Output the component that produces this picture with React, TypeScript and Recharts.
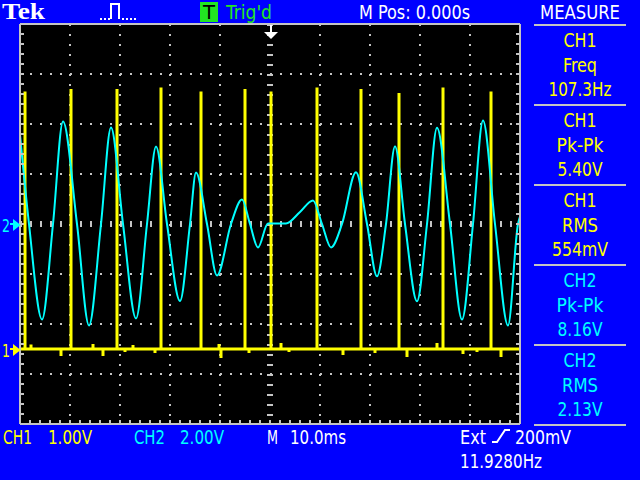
import { ComposedChart, Line, XAxis, YAxis, ReferenceLine } from "recharts";

// CH2 (cyan) trace: time in ms, volts (2 V/div)
const ch2Times = [
  0, 1.8, 4.4, 6.6, 8.6, 11.4, 13.8, 16.2, 18.2, 20.6, 23.2, 25.4, 27.2, 29.4, 32.0, 34.0,
  35.2, 37.4, 39.4, 42.2, 44.4, 46.0, 47.6, 49.6, 53.2, 56.0, 58.6, 60.4, 62.2, 64.4, 67.2,
  69.4, 71.4, 73.2, 75.0, 77.0, 79.4, 81.4, 83.4, 86.0, 88.4, 90.6, 92.6, 95.0, 97.6, 99.6, 100,
];
const ch2Volts = [
  3.58, 0, -3.82, 0, 4.1, 0, -4.06, 0, 3.86, 0, -3.78, 0, 3.1, 0, -3.08, 0,
  2.06, 0, -2.06, 0, 0.98, 0, -0.94, 0.02, 0.02, 0.48, 0.94, 0, -0.94, 0, 2.07,
  0, -2.09, 0, 3.11, 0, -3.09, 0, 3.85, 0, -3.82, 0, 4.14, 0, -4.06, 0, 0.3,
];

// CH1 (yellow) pulses: time in ms, height in volts (1 V/div)
const pulseTimes = [1.0, 10.2, 19.4, 28.2, 36.2, 45.0, 50.2, 59.4, 68.2, 75.8, 84.6, 94.2];
const pulseVolts = [5.15, 5.2, 5.2, 5.23, 5.15, 5.2, 5.15, 5.23, 5.2, 5.12, 5.23, 5.15];

// small glitches on the CH1 baseline
const glitchTimes = [2.2, 8.2, 14.6, 16.6, 21.0, 22.6, 27.0, 39.8, 40.2, 45.8, 52.2, 53.8, 64.6, 71.0, 77.4, 83.4, 88.6, 91.4, 96.2];
const glitchVolts = [0.09, -0.14, 0.1, -0.14, -0.06, 0.08, -0.08, 0.1, -0.18, -0.08, 0.12, -0.06, -0.12, -0.08, -0.16, 0.12, -0.1, -0.06, -0.16];

// graticule divisions
const timeDivs = [0, 10, 20, 30, 40, 50, 60, 70, 80, 90, 100];
const ch2Divs = [-8, -6, -4, -2, 0, 2, 4, 6, 8];
const ch1Divs = [-1.5, -0.5, 0.5, 1.5, 2.5, 3.5, 4.5, 5.5, 6.5];

// measure panel
const measSources = ["CH1", "CH1", "CH1", "CH2", "CH2"];
const measNames = ["Freq", "Pk-Pk", "RMS", "Pk-Pk", "RMS"];
const measValues = ["107.3Hz", "5.40V", "554mV", "8.16V", "2.13V"];
const measNameW = [34, 47, 36, 47, 36];
const measValueW = [63, 45, 56, 45, 45];

const BLUE = "#0000ff";
const GREY = "#c4c4c4";
const YELLOW = "#ffff00";
const CYAN = "#00ffff";
const GREEN = "#22e622";
const FONT = '"Liberation Sans Narrow", "DejaVu Sans Condensed", "Liberation Sans", sans-serif';

// 5 minor ticks per division
function minor(divs: number[]) {
  const out: number[] = [];
  for (let i = 0; i < divs.length - 1; i++) {
    for (let k = 0; k < 5; k++) out.push(divs[i] + ((divs[i + 1] - divs[i]) * k) / 5);
  }
  out.push(divs[divs.length - 1]);
  return out;
}

const ch2Data = ch2Times.map((t, i) => ({ t, v: ch2Volts[i] }));

const ch1Events = [
  ...pulseTimes.map((t, i) => ({ t, v: pulseVolts[i] })),
  ...glitchTimes.map((t, i) => ({ t, v: glitchVolts[i] })),
].sort((a, b) => a.t - b.t);
const ch1Data: { t: number; v: number }[] = [{ t: 0, v: 0 }];
ch1Events.forEach((e) => {
  ch1Data.push({ t: e.t, v: 0 }, { t: e.t, v: e.v }, { t: e.t, v: 0 });
});
ch1Data.push({ t: 100, v: 0 });

const noLabel = () => <g />;
const border = { stroke: GREY, strokeWidth: 2 };

function Txt(props: { x: number; y: number; w: number; c: string; s?: number; mid?: boolean; bold?: boolean; font?: string; children: string }) {
  return (
    <text
      x={props.x}
      y={props.y}
      fill={props.c}
      fontSize={props.s ?? 20}
      fontWeight={props.bold ? 700 : 400}
      fontFamily={props.font ?? FONT}
      textLength={props.w}
      lengthAdjust="spacingAndGlyphs"
      textAnchor={props.mid ? "middle" : "start"}
    >
      {props.children}
    </text>
  );
}

export default function App() {
  return (
    <div style={{ position: "relative", width: 640, height: 480, background: BLUE, overflow: "hidden", fontFamily: FONT }}>
      <style>{"body{margin:0}"}</style>
      <div style={{ position: "absolute", left: 20, top: 24, width: 500, height: 400, background: "#000" }} />
      <ComposedChart
        width={640}
        height={480}
        margin={{ top: 24, right: 120, bottom: 56, left: 20 }}
        style={{ position: "absolute", left: 0, top: 0 }}
      >
        <XAxis xAxisId="b" dataKey="t" type="number" domain={[0, 100]} allowDataOverflow ticks={minor(timeDivs)} interval={0}
          tick={noLabel} tickSize={4} mirror axisLine={border} tickLine={border} />
        <XAxis xAxisId="t" orientation="top" type="number" domain={[0, 100]} allowDataOverflow ticks={minor(timeDivs)} interval={0}
          tick={noLabel} tickSize={4} mirror axisLine={border} tickLine={border} />
        <YAxis yAxisId="ch2" type="number" domain={[-8, 8]} allowDataOverflow ticks={minor(ch2Divs)} interval={0}
          tick={noLabel} tickSize={4} mirror axisLine={border} tickLine={border} />
        <YAxis yAxisId="ch1" orientation="right" type="number" domain={[-1.5, 6.5]} allowDataOverflow ticks={minor(ch1Divs)} interval={0}
          tick={noLabel} tickSize={4} mirror axisLine={border} tickLine={border} />

        {ch2Divs.slice(1, -1).filter((v) => v !== 0).map((v) => (
          <ReferenceLine key={"h" + v} xAxisId="b" yAxisId="ch2" y={v} stroke={GREY} strokeWidth={2} strokeDasharray="2 8" />
        ))}
        {timeDivs.slice(1, -1).filter((t) => t !== 50).map((t) => (
          <ReferenceLine key={"v" + t} xAxisId="b" yAxisId="ch2" x={t} stroke={GREY} strokeWidth={2} strokeDasharray="2 8" strokeDashoffset={2} />
        ))}
        <ReferenceLine xAxisId="b" yAxisId="ch2" y={0} stroke={GREY} strokeWidth={6} strokeDasharray="2 8" />
        <ReferenceLine xAxisId="b" yAxisId="ch2" x={50} stroke={GREY} strokeWidth={6} strokeDasharray="2 8" strokeDashoffset={2} />

        <Line xAxisId="b" yAxisId="ch1" data={ch1Data} dataKey="v" type="linear" stroke={YELLOW} strokeWidth={3}
          dot={false} activeDot={false} isAnimationActive={false} />
        <Line xAxisId="b" yAxisId="ch2" data={ch2Data} dataKey="v" type="monotone" stroke={CYAN} strokeWidth={2}
          dot={false} activeDot={false} isAnimationActive={false} />
      </ComposedChart>

      <svg width={640} height={480} style={{ position: "absolute", left: 0, top: 0, pointerEvents: "none" }}>
        {/* header */}
        <Txt x={2} y={19} w={43} c="#fff" s={23} bold font='"Liberation Serif", "DejaVu Serif", serif'>Tek</Txt>
        <line x1={100} y1={19} x2={110} y2={19} stroke="#fff" strokeWidth={2} strokeDasharray="2 2" />
        <path d="M111 19 V4 H119 V19" stroke="#fff" strokeWidth={2} fill="none" />
        <line x1={122} y1={19} x2={136} y2={19} stroke="#fff" strokeWidth={2} strokeDasharray="2 2" />
        <rect x={200} y={2} width={18} height={20} fill={GREEN} />
        <Txt x={203} y={19} w={12} c="#000">T</Txt>
        <Txt x={226} y={19} w={46} c={GREEN}>Trig'd</Txt>
        <Txt x={359} y={19} w={111} c="#fff">M Pos: 0.000s</Txt>
        <Txt x={540} y={19} w={80} c="#fff">MEASURE</Txt>

        {/* trigger position marker */}
        <rect x={270} y={25} width={2} height={7} fill="#fff" />
        <path d="M264 32 H278 L271 39 Z" fill="#fff" />

        {/* channel ground markers */}
        <Txt x={2} y={232} w={8} c={CYAN} s={18}>2</Txt>
        <path d="M10 224 H14 M14 221 L19 225 L14 229 Z" stroke={CYAN} strokeWidth={2} fill={CYAN} />
        <Txt x={2} y={357} w={8} c={YELLOW} s={18}>1</Txt>
        <path d="M10 349 H14 M14 346 L19 350 L14 354 Z" stroke={YELLOW} strokeWidth={2} fill={YELLOW} />

        {/* measure panel */}
        {measSources.map((src, i) => {
          const top = 25 + i * 80;
          const c = src === "CH1" ? YELLOW : CYAN;
          return (
            <g key={i}>
              <line x1={534} y1={top} x2={626} y2={top} stroke={GREY} strokeWidth={2} />
              <Txt x={580} y={top + 22} w={33} c={c} mid>{src}</Txt>
              <Txt x={580} y={top + 47} w={measNameW[i]} c={c} mid>{measNames[i]}</Txt>
              <Txt x={580} y={top + 71} w={measValueW[i]} c={c} mid>{measValues[i]}</Txt>
            </g>
          );
        })}
        <line x1={534} y1={425} x2={626} y2={425} stroke={GREY} strokeWidth={2} />

        {/* footer */}
        <Txt x={3} y={444} w={29} c={YELLOW}>CH1</Txt>
        <Txt x={48} y={444} w={44} c={YELLOW}>1.00V</Txt>
        <Txt x={134} y={444} w={31} c={CYAN}>CH2</Txt>
        <Txt x={180} y={444} w={44} c={CYAN}>2.00V</Txt>
        <Txt x={267} y={444} w={11} c="#fff">M</Txt>
        <Txt x={290} y={444} w={56} c="#fff">10.0ms</Txt>
        <Txt x={460} y={444} w={26} c="#fff">Ext</Txt>
        <path d="M492 442 H497 L505 430 H510" stroke="#fff" strokeWidth={2} fill="none" />
        <Txt x={515} y={444} w={56} c="#fff">200mV</Txt>
        <Txt x={460} y={468} w={82} c="#fff">11.9280Hz</Txt>
      </svg>
    </div>
  );
}
